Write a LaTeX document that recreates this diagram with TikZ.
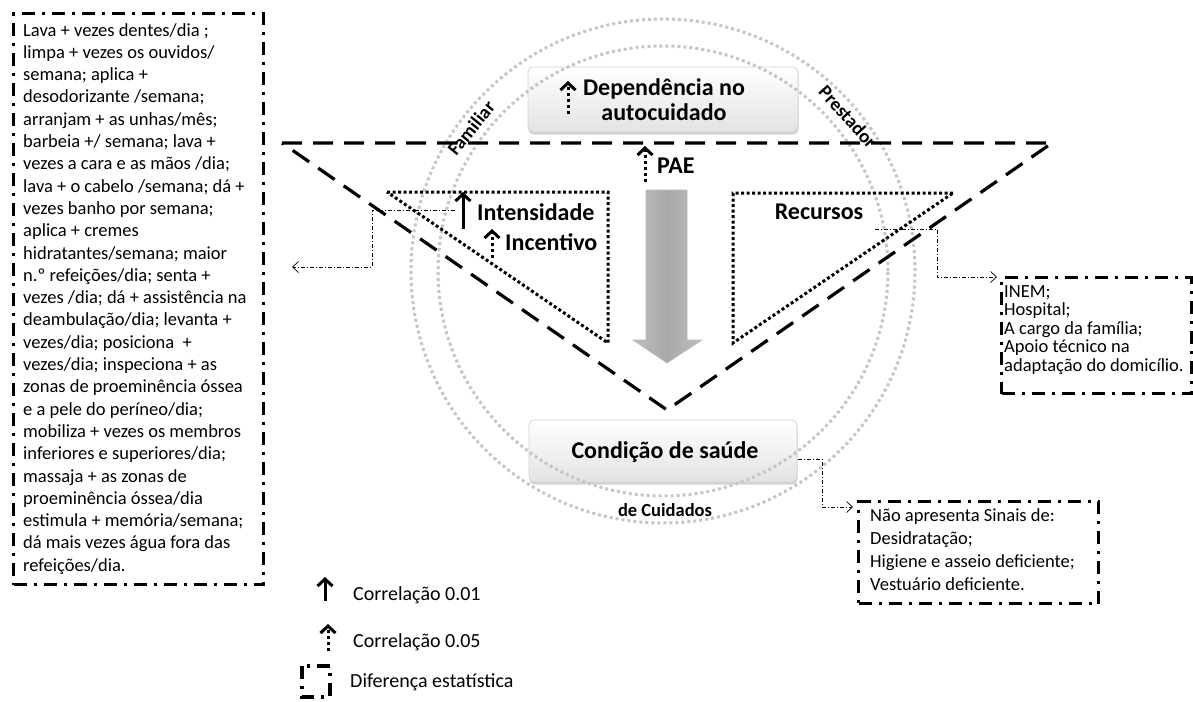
\documentclass[tikz,border=0pt]{standalone}
\usepackage{fontspec}
\setmainfont{Carlito}
\usetikzlibrary{arrows.meta,shadows}
\tikzset{
  dashdotbox/.style={line width=3.2pt, dash pattern=on 13pt off 7pt on 3pt off 7pt},
  bigdash/.style={line width=3.2pt, dash pattern=on 20pt off 11pt},
  dotbox/.style={line width=3pt, dash pattern=on 3pt off 2.5pt},
  ring/.style={draw=gray!45, line width=3pt, dash pattern=on 3pt off 3pt},
  link/.style={line width=0.7pt, dash pattern=on 4pt off 2pt on 1pt off 2pt,
    -{Straight Barb[length=6pt,width=11pt,line width=0.7pt]}},
  sarrow/.style={line width=3pt, -{Straight Barb[length=7pt,width=15pt,line width=3pt]}},
  darrow/.style={line width=3pt, dash pattern=on 3pt off 3pt,
    -{Straight Barb[length=7pt,width=15pt,line width=3pt]}},
  softbox/.style={rounded corners=5pt, draw=gray!35, line width=0.8pt,
    top color=white, bottom color=gray!22,
    drop shadow={shadow xshift=0.5pt, shadow yshift=-2.5pt, opacity=0.35},
    align=center, inner sep=0pt},
  blbl/.style={font=\bfseries\fontsize{24}{25}\selectfont, inner sep=0pt},
  txt/.style={font=\fontsize{18.5}{22.3}\selectfont, align=left, inner sep=0pt},
  legtxt/.style={font=\fontsize{20}{22}\selectfont, inner sep=0pt},
}
\begin{document}
\begin{tikzpicture}[x=1pt,y=-1pt]
\useasboundingbox[fill=white] (0,0) rectangle (1193,701);

% left text box
\node[dashdotbox, draw, minimum width=250pt, minimum height=571pt, anchor=north west] (lbox) at (12,12) {};
\node[txt, anchor=north west] (ltext) at (23,23) {Lava + vezes dentes/dia ;\\
limpa + vezes os ouvidos/\\
semana; aplica +\\
desodorizante /semana;\\
arranjam + as unhas/mês;\\
barbeia +/ semana; lava +\\
vezes a cara e as mãos /dia;\\
lava + o cabelo /semana; dá +\\
vezes banho por semana;\\
aplica + cremes\\
hidratantes/semana; maior\\
n.º refeições/dia; senta +\\
vezes /dia; dá + assistência na\\
deambulação/dia; levanta +\\
vezes/dia; posiciona \ +\\
vezes/dia; inspeciona + as\\
zonas de proeminência óssea\\
e a pele do períneo/dia;\\
mobiliza + vezes os membros\\
inferiores e superiores/dia;\\
massaja + as zonas de\\
proeminência óssea/dia\\
estimula + memória/semana;\\
dá mais vezes água fora das\\
refeições/dia.};

% soft boxes
\node[softbox, minimum width=270pt, minimum height=65pt] (dep) at (663,99.5) {};
\node[blbl, align=center] (deptext) at (664,99.5) {Dependência no\\autocuidado};
\node[softbox, minimum width=268pt, minimum height=62pt] (cond) at (663,451) {};
\node[blbl] (condtext) at (665,452) {Condição de saúde};

% circles
\draw[ring] (663,271) circle[radius=252pt];
\draw[ring] (663,271) circle[radius=225pt];

% big dashed triangle
\draw[bigdash] (282,143) -- (1052,143) -- (667,410) -- cycle;

% dotted trapezoids
\draw[dotbox] (387,192) -- (608,192) -- (608,343) -- cycle;
\draw[dotbox] (953,193) -- (733,193) -- (733,343) -- cycle;

% grey arrow
\draw[gray!55, left color=gray!50, right color=gray!50, middle color=gray!68, line width=0.6pt]
  (646,190) -- (687,190) -- (687,340) -- (702,340) -- (667,363) -- (633,340) -- (646,340) -- cycle;

% labels
\node[blbl, anchor=west] (inten) at (477,212) {Intensidade};
\node[blbl, anchor=west] (incen) at (505,242) {Incentivo};
\node[blbl] (recur) at (819,212) {Recursos};
\node[blbl, anchor=west] (pae) at (657,166) {PAE};
\node[font=\bfseries\fontsize{19}{20}\selectfont, rotate=51, inner sep=0pt] (fam) at (471,128) {Familiar};
\node[font=\bfseries\fontsize{19}{20}\selectfont, rotate=-48, inner sep=0pt] (prest) at (848,117) {Prestador};
\node[font=\bfseries\fontsize{18.5}{20}\selectfont, inner sep=0pt] (cuid) at (665,510) {de Cuidados};

% correlation arrows
\draw[sarrow] (463,229) -- (463,192);
\draw[darrow] (492,258) -- (492,229);
\draw[darrow] (568,114) -- (568,81);
\draw[darrow] (645,182) -- (645,146);

% right box
\node[dashdotbox, draw, minimum width=190pt, minimum height=116pt, anchor=north west] (rbox) at (1000,276) {};
\node[font=\fontsize{18.5}{18.5}\selectfont, align=left, inner sep=0pt, anchor=north west] (rtext) at (1004,285) {INEM;\\Hospital;\\A cargo da família;\\Apoio técnico na\\adaptação do domicílio.};

% bottom right box
\node[dashdotbox, draw, minimum width=240pt, minimum height=102pt, anchor=north west] (bbox) at (857,500) {};
\node[font=\fontsize{18.5}{23.3}\selectfont, align=left, inner sep=0pt, anchor=north west] (btext) at (870,508) {Não apresenta Sinais de:\\Desidratação;\\Higiene e asseio deficiente;\\Vestuário deficiente.};

% connectors
\coordinate (lstart) at (455,210);
\coordinate (ltip) at (292,267);
\draw[link] (lstart) -- (372,210) |- (ltip);
\coordinate (rstart) at (875,229);
\coordinate (rtip) at (997,277);
\draw[link] (rstart) -- (937,229) |- (rtip);
\coordinate (cstart) at (798,459);
\coordinate (ctip) at (853,507);
\draw[link] (cstart) -- (822,459) |- (ctip);

% legend
\draw[sarrow] (325,601) -- (325,577);
\node[legtxt, anchor=west] (leg1) at (353,595) {Correlação 0.01};
\draw[darrow] (328,651) -- (328,624);
\node[legtxt, anchor=west] (leg2) at (353,642) {Correlação 0.05};
\draw[dashdotbox] (302,666) rectangle (330,697);
\node[legtxt, anchor=west] (leg3) at (350,682) {Diferença estatística};
\end{tikzpicture}
\end{document}
